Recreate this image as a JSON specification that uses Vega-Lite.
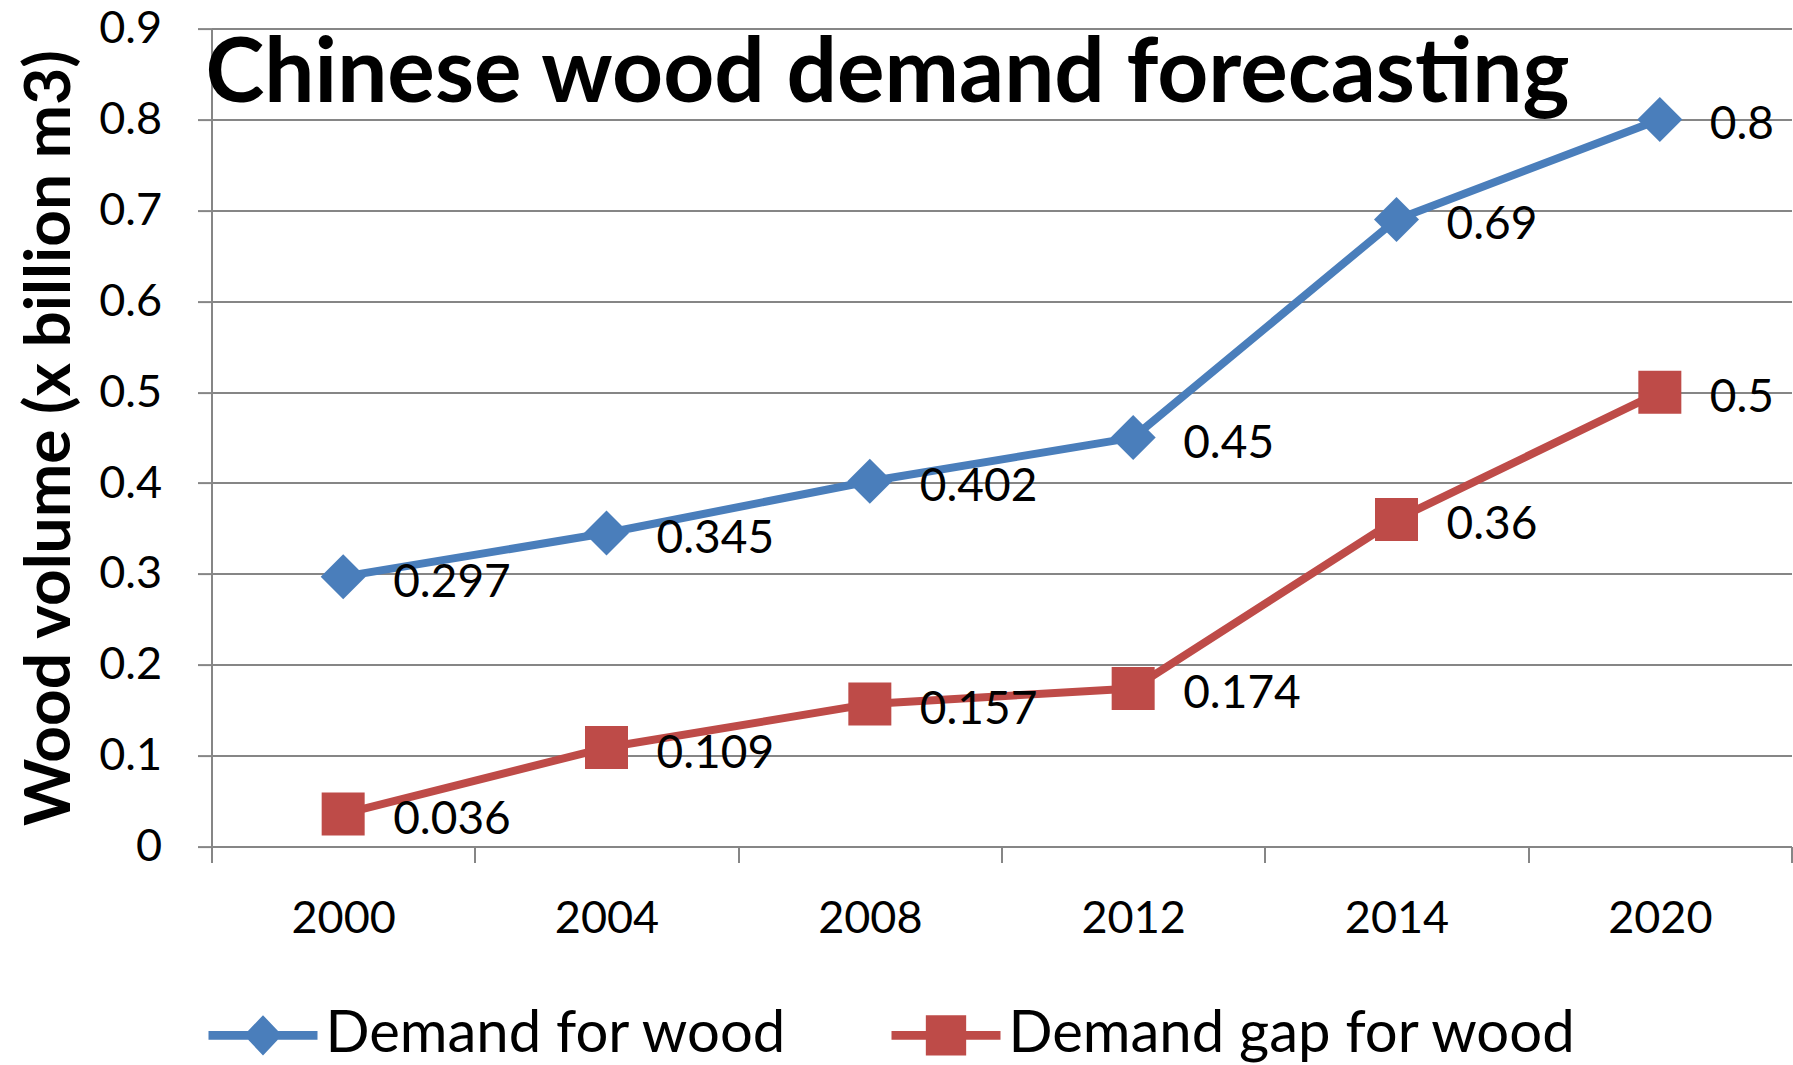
{
  "$schema": "https://vega.github.io/schema/vega-lite/v6.json",
  "width": 1580,
  "height": 818,
  "autosize": {"type": "none"},
  "padding": {"left": 211.5, "top": 28.6, "right": 1.5, "bottom": 218.4},
  "background": "white",
  "config": {"view": {"stroke": null}, "font": "Lato"},
  "title": {
    "text": "Chinese wood demand forecasting",
    "anchor": "start",
    "frame": "group",
    "font": "Lato",
    "fontSize": 89,
    "fontWeight": "bold",
    "color": "black",
    "baseline": "alphabetic",
    "offset": 0,
    "dy": 184,
    "dx": -6
  },
  "data": {
    "values": [
      {"year": "2000", "series": "Demand for wood", "value": 0.297},
      {"year": "2004", "series": "Demand for wood", "value": 0.345},
      {"year": "2008", "series": "Demand for wood", "value": 0.402},
      {"year": "2012", "series": "Demand for wood", "value": 0.45},
      {"year": "2014", "series": "Demand for wood", "value": 0.69},
      {"year": "2020", "series": "Demand for wood", "value": 0.8},
      {"year": "2000", "series": "Demand gap for wood", "value": 0.036},
      {"year": "2004", "series": "Demand gap for wood", "value": 0.109},
      {"year": "2008", "series": "Demand gap for wood", "value": 0.157},
      {"year": "2012", "series": "Demand gap for wood", "value": 0.174},
      {"year": "2014", "series": "Demand gap for wood", "value": 0.36},
      {"year": "2020", "series": "Demand gap for wood", "value": 0.5}
    ]
  },
  "encoding": {
    "x": {
      "field": "year",
      "type": "nominal",
      "sort": null,
      "scale": {"paddingInner": 0, "paddingOuter": 0},
      "axis": {
        "title": null,
        "labelAngle": 0,
        "labelFont": "Lato",
        "labelFontSize": 45,
        "labelColor": "black",
        "tickBand": "extent",
        "tickSize": 16,
        "tickColor": "#868686",
        "tickWidth": 2,
        "domainColor": "#868686",
        "domainWidth": 2,
        "labelPadding": 34,
        "grid": false
      }
    },
    "y": {
      "field": "value",
      "type": "quantitative",
      "scale": {"domain": [0, 0.9], "nice": false},
      "axis": {
        "values": [0, 0.1, 0.2, 0.3, 0.4, 0.5, 0.6, 0.7, 0.8, 0.9],
        "format": ".1~f",
        "title": "Wood  volume (x billion m3)",
        "titleFont": "Lato",
        "titleFontSize": 64,
        "titleFontWeight": "bold",
        "titleColor": "black",
        "titlePadding": 16,
        "labelFont": "Lato",
        "labelFontSize": 45,
        "labelColor": "black",
        "labelPadding": 36,
        "tickSize": 14,
        "tickColor": "#868686",
        "tickWidth": 2,
        "domainColor": "#868686",
        "domainWidth": 2,
        "grid": true,
        "gridColor": "#868686",
        "gridWidth": 2
      }
    },
    "color": {
      "field": "series",
      "type": "nominal",
      "scale": {"domain": ["Demand for wood", "Demand gap for wood"], "range": ["#4A7EBB", "#BE4B48"]},
      "legend": {
        "orient": "none",
        "legendX": -3,
        "legendY": 952,
        "direction": "horizontal",
        "title": null,
        "padding": 0,
        "symbolSize": 11881,
        "symbolStrokeWidth": 0,
        "labelFont": "Lato",
        "labelFontSize": 58,
        "labelColor": "black",
        "labelOffset": 8,
        "columnPadding": 103,
        "labelLimit": 1000,
        "encode": {
          "symbols": {
            "update": {
              "shape": {"signal": "datum.value === 'Demand for wood' ? 'M-1,-0.08L1,-0.08L1,0.08L-1,0.08Z M0,-0.37L0.35,0L0,0.37L-0.35,0Z' : 'M-1,-0.08L1,-0.08L1,0.08L-1,0.08Z M-0.37,-0.37L0.37,-0.37L0.37,0.37L-0.37,0.37Z'"},
              "fill": {"signal": "datum.value === 'Demand for wood' ? '#4A7EBB' : '#BE4B48'"},
              "stroke": {"value": "transparent"},
              "opacity": {"value": 1},
              "fillOpacity": {"value": 1}
            }
          }
        }
      }
    }
  },
  "layer": [
    {"mark": {"type": "line", "strokeWidth": 8, "strokeJoin": "round", "strokeCap": "round"}},
    {
      "transform": [{"filter": "datum.series === 'Demand for wood'"}],
      "mark": {"type": "point", "filled": true, "opacity": 1, "shape": "diamond", "size": 2025}
    },
    {
      "transform": [{"filter": "datum.series === 'Demand gap for wood'"}],
      "mark": {"type": "point", "filled": true, "opacity": 1, "shape": "square", "size": 1849}
    },
    {
      "mark": {"type": "text", "align": "left", "baseline": "middle", "dx": 50, "dy": 6, "font": "Lato", "fontSize": 46},
      "encoding": {
        "text": {"field": "value", "type": "quantitative", "format": ".3~f"},
        "color": {"value": "black"}
      }
    }
  ]
}
